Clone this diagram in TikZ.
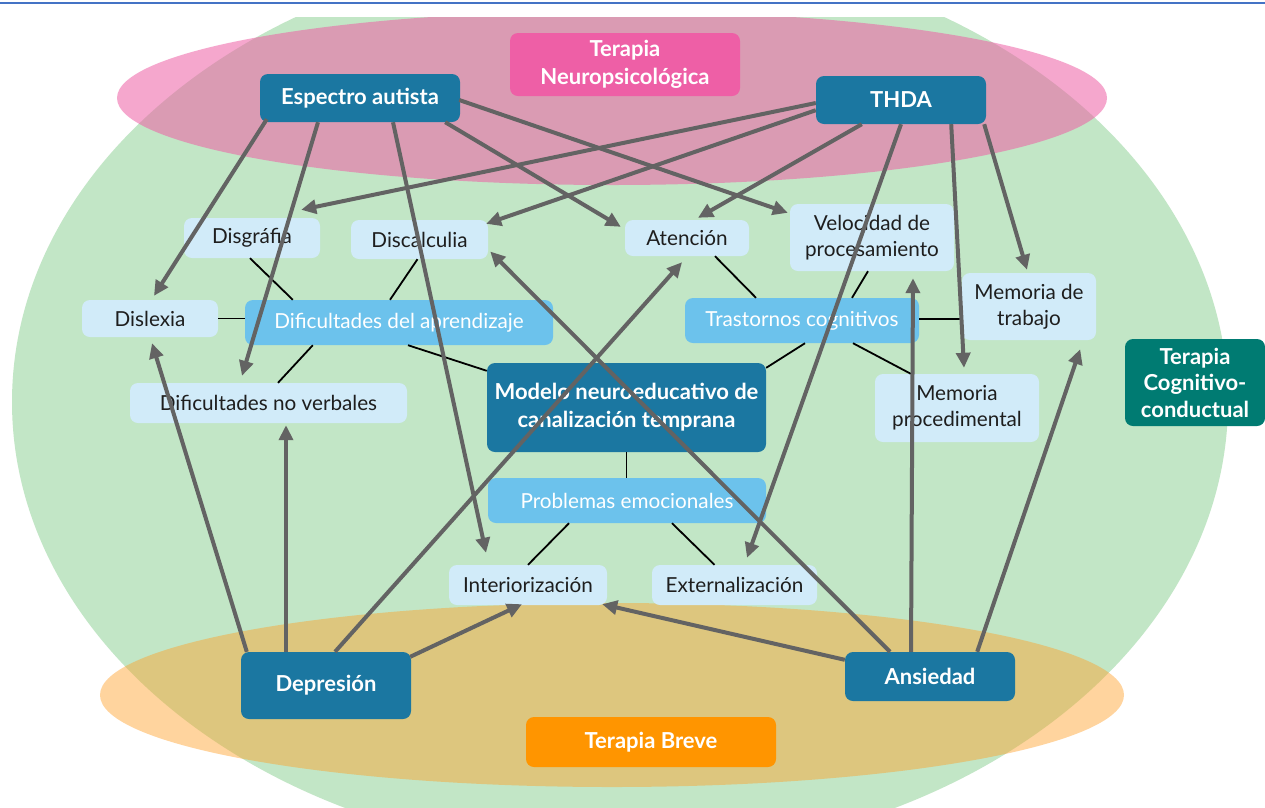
\documentclass[tikz,border=0pt]{standalone}
\usepackage{fontspec}
\setmainfont{Lato}
\usetikzlibrary{arrows.meta,calc}
\definecolor{dkblue}{HTML}{1B77A1}
\definecolor{ltblue}{HTML}{D1EBF9}
\definecolor{mdblue}{HTML}{6CC2EC}
\definecolor{tealc}{HTML}{007B72}
\definecolor{pinkbox}{HTML}{EE5FA6}
\definecolor{orangebox}{HTML}{FF9500}
\definecolor{greenfill}{HTML}{C2E6C6}
\definecolor{pinkfill}{HTML}{EE5FA5}
\definecolor{orangefill}{HTML}{FFA028}
\definecolor{arrgray}{HTML}{636363}
\definecolor{txtc}{HTML}{1E1E1E}
\definecolor{topblue}{HTML}{4473C5}
\tikzset{
  boxbase/.style={rounded corners=8pt, align=center, inner sep=0pt},
  nDark/.style={boxbase, fill=dkblue, text=white, font=\fontsize{22}{28}\selectfont\bfseries},
  nLight/.style={boxbase, fill=ltblue, text=txtc, font=\fontsize{20.7}{26}\selectfont},
  nMid/.style={boxbase, fill=mdblue, text=white, font=\fontsize{20.7}{26}\selectfont},
  nTher/.style={boxbase, text=white, font=\fontsize{22}{27.5}\selectfont\bfseries},
  cLine/.style={draw=black, line width=1.8pt},
  cArrow/.style={draw=arrgray, line width=4pt, -{Triangle[length=15pt,width=14pt]}},
}
\begin{document}
\begin{tikzpicture}[x=1pt,y=-1pt]
\useasboundingbox (0,0) rectangle (1265,807);
\fill[white] (0,0) rectangle (1265,807);
\begin{scope}
\clip (0,17) rectangle (1265,807);
\fill[greenfill] (620,402) ellipse [x radius=608pt, y radius=455pt];
\fill[pinkfill, fill opacity=0.55] (612,98) ellipse [x radius=495pt, y radius=87pt];
\fill[orangefill, fill opacity=0.45] (612,695) ellipse [x radius=512pt, y radius=92pt];
\end{scope}
\draw[topblue, line width=2.5pt] (0,3) -- (1265,3);

% therapy labels
\node[nTher, fill=pinkbox, minimum width=230pt, minimum height=63pt] (neuro) at (625,64.5) {Terapia\\Neuropsicológica};
\node[nTher, fill=tealc, minimum width=140pt, minimum height=87pt, font=\fontsize{22}{26.5}\selectfont\bfseries] (tcc) at (1195,382.5) {Terapia\\Cognitivo-\\conductual};
\node[nTher, fill=orangebox, minimum width=250pt, minimum height=50pt] (breve) at (651,742) {Terapia Breve};

% main nodes
\node[nDark, minimum width=200pt, minimum height=48pt] (esp) at (360,98) {Espectro autista};
\node[nDark, minimum width=170pt, minimum height=48pt] (thda) at (901,100) {THDA};
\node[nDark, minimum width=279pt, minimum height=89pt] (modelo) at (626.5,407.5) {Modelo neuroeducativo de\\canalización temprana};
\node[nDark, minimum width=170pt, minimum height=67pt] (depr) at (326,685.5) {Depresión};
\node[nDark, minimum width=170pt, minimum height=49pt] (ans) at (930,676.5) {Ansiedad};

\node[nLight, minimum width=136pt, minimum height=40pt] (disg) at (252,238) {Disgráfia};
\node[nLight, minimum width=137pt, minimum height=39pt] (discal) at (419.5,239.5) {Discalculia};
\node[nLight, minimum width=124pt, minimum height=36pt] (aten) at (687,238) {Atención};
\node[nLight, minimum width=164pt, minimum height=67pt] (vel) at (872,237.5) {Velocidad de\\procesamiento};
\node[nLight, minimum width=136pt, minimum height=37pt] (dislexia) at (150,318.5) {Dislexia};
\node[nLight, minimum width=134pt, minimum height=67pt] (memt) at (1029,306.5) {Memoria de\\trabajo};
\node[nLight, minimum width=277pt, minimum height=40pt] (difnv) at (268.5,403) {Dificultades no verbales};
\node[nLight, minimum width=164pt, minimum height=68pt] (memp) at (957,408) {Memoria\\procedimental};
\node[nLight, minimum width=158pt, minimum height=40pt] (inter) at (528,585) {Interiorización};
\node[nLight, minimum width=165pt, minimum height=40pt] (exter) at (734.5,585) {Externalización};

\node[nMid, minimum width=308pt, minimum height=45pt] (difap) at (399,322.5) {Dificultades del aprendizaje};
\node[nMid, minimum width=234pt, minimum height=45pt] (trast) at (802,320.5) {Trastornos cognitivos};
\node[nMid, minimum width=278pt, minimum height=45pt] (probl) at (627,500.5) {Problemas emocionales};

% black connectors
\draw[cLine] ([xshift=-2pt]disg.south) -- ([xshift=48pt]difap.north west);
\draw[cLine] ([xshift=-2pt]discal.south) -- ([xshift=-9pt]difap.north);
\draw[cLine] (dislexia.east) -- (dislexia.east -| difap.west);
\draw[cLine] ([xshift=68pt]difap.south west) -- ([xshift=9.5pt]difnv.north);
\draw[cLine] ([xshift=9pt]difap.south) -- ([yshift=-8pt]modelo.north west);
\draw[cLine] ([xshift=28pt]aten.south) -- ([xshift=-46pt]trast.north);
\draw[cLine] ([xshift=-4pt]vel.south) -- ([xshift=50pt]trast.north);
\draw[cLine] ([yshift=1.5pt]trast.east) -- ([yshift=1.5pt]trast.east -| memt.west);
\draw[cLine] ([xshift=3pt]trast.south) -- ([yshift=-5pt]modelo.north east);
\draw[cLine] ([xshift=51pt]trast.south) -- ([xshift=36pt]memp.north west);
\draw[cLine] (modelo.south) -- (modelo.south |- probl.north);
\draw[cLine] ([xshift=-58pt]probl.south) -- (inter.north);
\draw[cLine] ([xshift=45pt]probl.south) -- ([xshift=-20pt]exter.north);

% gray arrows
\draw[cArrow] ([xshift=7pt,yshift=3pt]esp.south west) -- ([xshift=4pt,yshift=4pt]dislexia.north);
\draw[cArrow] ([xshift=-42pt]esp.south) -- ([xshift=-26.5pt,yshift=7pt]difnv.north);
\draw[cArrow] ([xshift=33pt]esp.south) -- ([xshift=-42pt,yshift=12pt]inter.north);
\draw[cArrow] ([xshift=-15pt]esp.south east) -- ([xshift=-4pt,yshift=-7pt]aten.north west);
\draw[cArrow] ([xshift=-1pt,yshift=-2pt]esp.east) -- ([xshift=-2pt,yshift=-9pt]vel.north west);
\draw[cArrow] ([yshift=-3pt]thda.west) -- ([xshift=-19pt,yshift=8pt]disg.north east);
\draw[cArrow] ([yshift=14pt]thda.south west) -- ([xshift=-2pt,yshift=-4pt]discal.north east);
\draw[cArrow] ([xshift=46pt]thda.south west) -- ([xshift=11pt,yshift=2pt]aten.north);
\draw[cArrow] (thda.south) -- ([xshift=12.5pt,yshift=7pt]exter.north);
\draw[cArrow] ([xshift=-35pt]thda.south east) -- ([xshift=7pt,yshift=6pt]memp.north);
\draw[cArrow] ([xshift=-2pt]thda.south east) -- ([xshift=-2pt,yshift=3pt]memt.north);
\draw[cArrow] ([xshift=6pt]depr.north west) -- ([xshift=2pt,yshift=-6pt]dislexia.south);
\draw[cArrow] ([xshift=-40pt]depr.north) -- ([xshift=17.5pt,yshift=-2pt]difnv.south);
\draw[cArrow] ([xshift=9pt]depr.north) -- ([xshift=-5pt,yshift=-6pt]aten.south);
\draw[cArrow] ([xshift=-1pt,yshift=-5pt]depr.north east) -- ([xshift=-6pt,yshift=1pt]inter.south);
\draw[cArrow] ([yshift=-8pt]ans.north west) -- ([xshift=-5pt,yshift=1pt]inter.south east);
\draw[cArrow] ([xshift=-40pt]ans.north) -- ([xshift=2pt,yshift=-12pt]discal.east);
\draw[cArrow] ([xshift=-19pt]ans.north) -- ([xshift=41pt,yshift=-7pt]vel.south);
\draw[cArrow] ([xshift=-38pt]ans.north east) -- ([xshift=-16pt,yshift=-9pt]memt.south east);
\end{tikzpicture}
\end{document}
